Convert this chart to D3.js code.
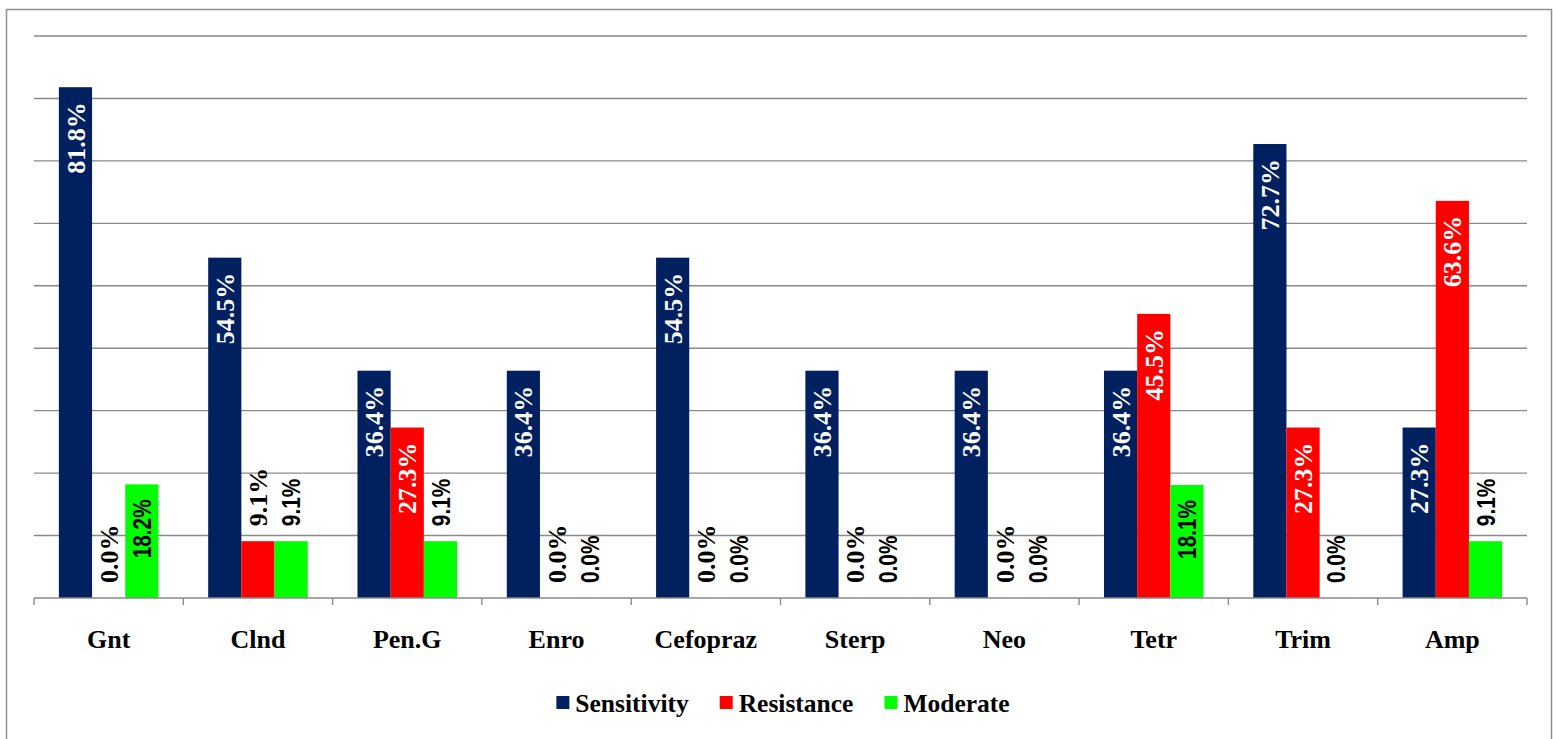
<!DOCTYPE html>
<html>
<head>
<meta charset="utf-8">
<script src="https://cdn.jsdelivr.net/npm/d3@7"></script>
<style>
  html, body { margin: 0; padding: 0; background: #ffffff; }
  svg { display: block; }
  .serif { font-family: "Liberation Serif", "Times New Roman", serif; font-weight: bold; }
  .sans { font-family: "Liberation Sans", Arial, sans-serif; font-weight: bold; }
</style>
</head>
<body>
<svg id="chart" width="1553" height="739"></svg>
<script>
// Antibiotic susceptibility profile (% of isolates)
const categories = ["Gnt", "Clnd", "Pen.G", "Enro", "Cefopraz", "Sterp", "Neo", "Tetr", "Trim", "Amp"];
const seriesNames = ["Sensitivity", "Resistance", "Moderate"];
const sensitivity = [81.8, 54.5, 36.4, 36.4, 54.5, 36.4, 36.4, 36.4, 72.7, 27.3];
const resistance  = [0.0, 9.1, 27.3, 0.0, 0.0, 0.0, 0.0, 45.5, 27.3, 63.6];
const moderate    = [18.2, 9.1, 9.1, 0.0, 0.0, 0.0, 0.0, 18.1, 0.0, 9.1];
const gridTicks = [10, 20, 30, 40, 50, 60, 70, 80, 90];

const seriesValues = { Sensitivity: sensitivity, Resistance: resistance, Moderate: moderate };
const colors = { Sensitivity: "#002060", Resistance: "#ff0000", Moderate: "#00ff00" };
// label styling per series: serif for the first two, condensed sans for the third
const labelFont = {
  Sensitivity: { cls: "serif", squeeze: 1, inside: "#ffffff" },
  Resistance:  { cls: "serif", squeeze: 1, inside: "#ffffff" },
  Moderate:    { cls: "sans", squeeze: 0.8, inside: "#000000" }
};

const svg = d3.select("#chart");
const plot = { left: 34, right: 1527, top: 36, bottom: 598 };

// outer frame
svg.append("rect")
  .attr("x", 6.5).attr("y", 9.5)
  .attr("width", 1545).attr("height", 760)
  .attr("fill", "#ffffff")
  .attr("stroke", "#8f8f8f").attr("stroke-width", 1.5);

const x0 = d3.scaleBand().domain(categories).range([plot.left, plot.right]).padding(0);
const x1 = d3.scaleBand().domain(seriesNames).range([0, x0.bandwidth()])
  .paddingInner(0).paddingOuter(0.75);
const y = d3.scaleLinear().domain([0, 90]).range([plot.bottom, plot.top]);

// horizontal gridlines
svg.append("g")
  .selectAll("line")
  .data(gridTicks)
  .join("line")
  .attr("x1", plot.left).attr("x2", plot.right)
  .attr("y1", d => y(d)).attr("y2", d => y(d))
  .attr("stroke", "#8a8a8a").attr("stroke-width", 1.4);

// bars
const rows = categories.map((c, i) => ({
  category: c,
  items: seriesNames.map(s => ({ category: c, series: s, value: seriesValues[s][i] }))
}));

const groups = svg.append("g").selectAll("g")
  .data(rows)
  .join("g")
  .attr("transform", d => `translate(${x0(d.category)},0)`);

groups.selectAll("rect")
  .data(d => d.items)
  .join("rect")
  .attr("x", d => x1(d.series))
  .attr("y", d => y(d.value))
  .attr("width", x1.bandwidth())
  .attr("height", d => y(0) - y(d.value))
  .attr("fill", d => colors[d.series]);

// category axis along the baseline
const xAxis = svg.append("g");
xAxis.append("line")
  .attr("x1", plot.left).attr("x2", plot.right)
  .attr("y1", plot.bottom).attr("y2", plot.bottom)
  .attr("stroke", "#8a8a8a").attr("stroke-width", 1.6);
const boundaries = categories.map(c => x0(c)).concat([x0(categories[categories.length - 1]) + x0.bandwidth()]);
xAxis.selectAll("line.tick")
  .data(boundaries)
  .join("line")
  .attr("class", "tick")
  .attr("x1", d => d).attr("x2", d => d)
  .attr("y1", plot.bottom).attr("y2", plot.bottom + 7)
  .attr("stroke", "#8a8a8a").attr("stroke-width", 1.4);
xAxis.selectAll("text")
  .data(categories)
  .join("text")
  .attr("class", "serif")
  .attr("x", d => x0(d) + x0.bandwidth() / 2)
  .attr("y", 648)
  .attr("text-anchor", "middle")
  .attr("font-size", 26)
  .attr("fill", "#000000")
  .text(d => d);

// value labels, rotated; placed inside the bar top when they fit, above it otherwise
const pad = 15;
const labelGroup = svg.append("g");
rows.forEach(row => {
  row.items.forEach(d => {
    const f = labelFont[d.series];
    const cx = x0(d.category) + x1(d.series) + x1.bandwidth() / 2;
    const top = y(d.value);
    const barH = y(0) - top;
    const t = labelGroup.append("text")
      .attr("class", f.cls)
      .attr("font-size", 26)
      .attr("dy", "0.35em")
      .text(d.value.toFixed(1) + "%");
    const len = t.node().getComputedTextLength() * f.squeeze;
    const inside = len + 2 * pad <= barH;
    if (inside) {
      t.attr("text-anchor", "end")
        .attr("fill", f.inside)
        .attr("transform", `translate(${cx},${top + pad}) rotate(-90) scale(${f.squeeze},1)`);
    } else {
      t.attr("text-anchor", "start")
        .attr("fill", "#000000")
        .attr("transform", `translate(${cx},${top - pad}) rotate(-90) scale(${f.squeeze},1)`);
    }
  });
});

// legend centred under the plot
const legend = svg.append("g");
const items = seriesNames.map(s => {
  const t = legend.append("text")
    .attr("class", "serif")
    .attr("font-size", 25.5)
    .attr("fill", "#000000")
    .text(s);
  return { name: s, node: t, w: t.node().getComputedTextLength() };
});
const swatch = 13, swGap = 6, itemGap = 31;
const totalW = d3.sum(items, d => swatch + swGap + d.w) + itemGap * (items.length - 1);
let lx = 783 - totalW / 2;
items.forEach(it => {
  legend.append("rect")
    .attr("x", lx).attr("y", 696)
    .attr("width", swatch).attr("height", swatch)
    .attr("fill", colors[it.name]);
  it.node.attr("x", lx + swatch + swGap).attr("y", 712);
  lx += swatch + swGap + it.w + itemGap;
});
</script>
</body>
</html>
